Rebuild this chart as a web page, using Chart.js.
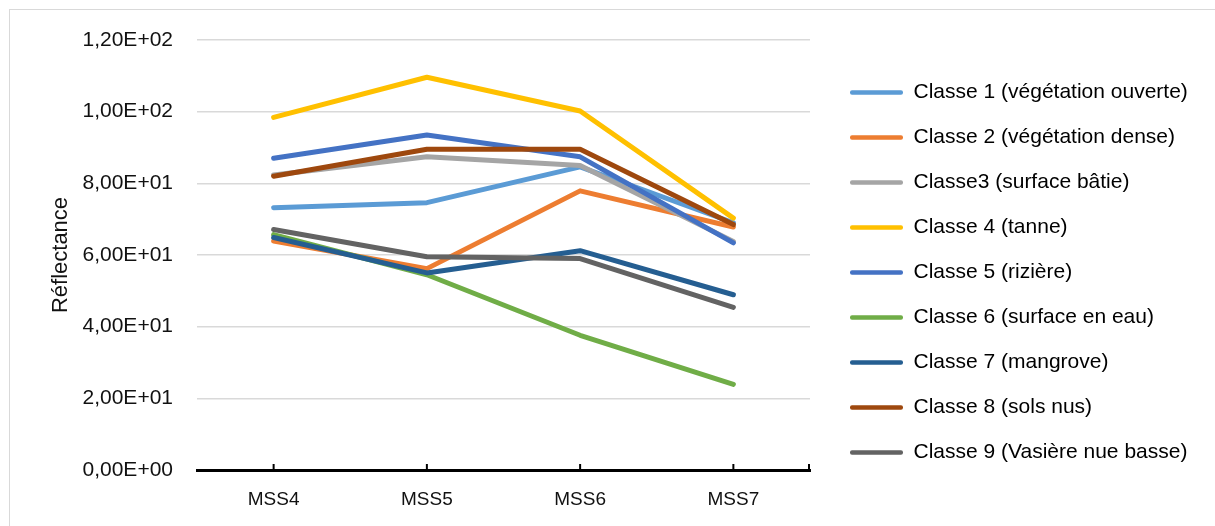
<!DOCTYPE html>
<html>
<head>
<meta charset="utf-8">
<script src="https://cdn.jsdelivr.net/npm/chart.js@4"></script>
<style>
  html, body { margin: 0; padding: 0; background: #fff; }
  #wrap { width: 1215px; height: 526px; position: relative; }
</style>
</head>
<body>
<div id="wrap"><canvas id="reflChart" width="1215" height="526"></canvas></div>
<script>
const bands = ["MSS4", "MSS5", "MSS6", "MSS7"];

const classNames = [
  "Classe 1 (végétation ouverte)",
  "Classe 2 (végétation dense)",
  "Classe3 (surface bâtie)",
  "Classe 4 (tanne)",
  "Classe 5 (rizière)",
  "Classe 6 (surface en eau)",
  "Classe 7 (mangrove)",
  "Classe 8 (sols nus)",
  "Classe 9 (Vasière nue basse)"
];

const classe1 = [73.2, 74.6, 84.6, 69.0];
const classe2 = [63.9, 56.2, 77.9, 67.8];
const classe3 = [82.3, 87.4, 85.0, 63.8];
const classe4 = [98.4, 109.6, 100.2, 70.3];
const classe5 = [87.0, 93.5, 87.4, 63.4];
const classe6 = [65.7, 54.5, 37.6, 23.9];
const classe7 = [64.9, 55.0, 61.2, 48.9];
const classe8 = [82.0, 89.5, 89.5, 68.5];
const classe9 = [67.1, 59.5, 59.0, 45.4];

const yTicks = [0, 20, 40, 60, 80, 100, 120];

const colors = ["#5B9BD5", "#ED7D31", "#A5A5A5", "#FFC000", "#4472C4",
                "#70AD47", "#255E91", "#9E480E", "#636363"];

const allSeries = [classe1, classe2, classe3, classe4, classe5,
                   classe6, classe7, classe8, classe9];

// excel style "1,20E+02"
function sci(v) {
  if (v === 0) return "0,00E+00";
  const e = Math.floor(Math.log10(Math.abs(v)));
  const m = v / Math.pow(10, e);
  return m.toFixed(2).replace(".", ",") + "E" + (e < 0 ? "-" : "+") + String(Math.abs(e)).padStart(2, "0");
}

const FONT = "'Liberation Sans', Arial, sans-serif";
const LEGEND_PAD = 24;

const frame = {
  id: "frame",
  beforeDraw(chart) {
    const ctx = chart.ctx;
    ctx.save();
    ctx.strokeStyle = "#d9d9d9";
    ctx.lineWidth = 1;
    ctx.strokeRect(9.5, 9.5, chart.width, chart.height);
    ctx.restore();
  },
  afterDraw(chart) {
    // small tick marks pointing up from the category axis
    const x = chart.scales.x;
    const ctx = chart.ctx;
    ctx.save();
    ctx.strokeStyle = "#000";
    ctx.lineWidth = 2;
    const ys = x.top;
    const pts = bands.map((_, i) => x.getPixelForTick(i));
    pts.push(x.right - 1);
    pts.forEach(px => {
      ctx.beginPath();
      ctx.moveTo(px, ys);
      ctx.lineTo(px, ys - 6);
      ctx.stroke();
    });
    ctx.restore();
  }
};

// legend sits a bit away from the plot, like the excel original
const legendPlace = {
  id: "legendPlace",
  afterUpdate(chart) {
    const lg = chart.legend;
    const h = lg.height;
    lg.left = 850 - LEGEND_PAD;
    lg.right = chart.width;
    lg.width = lg.right - lg.left;
    lg.top = 58;
    lg.bottom = lg.top + h;
  }
};

new Chart(document.getElementById("reflChart"), {
  type: "line",
  data: {
    labels: bands,
    datasets: allSeries.map((vals, i) => ({
      label: classNames[i],
      data: vals,
      borderColor: colors[i],
      backgroundColor: colors[i],
      borderWidth: 5,
      borderCapStyle: "round",
      borderJoinStyle: "round",
      tension: 0,
      pointRadius: 0,
      fill: false,
      order: allSeries.length - 1 - i
    }))
  },
  options: {
    responsive: false,
    animation: false,
    devicePixelRatio: 1,
    layout: {
      padding: { top: 40, bottom: 0, left: 10, right: 105 }
    },
    plugins: {
      tooltip: { enabled: false },
      legend: {
        display: true,
        position: "right",
        align: "start",
        maxWidth: 300,
        labels: {
          boxWidth: 53,
          boxHeight: 4.5,
          padding: LEGEND_PAD,
          color: "#111",
          font: { family: FONT, size: 21 },
          useBorderRadius: true,
          borderRadius: 2,
          generateLabels(chart) {
            return chart.data.datasets.map((ds, i) => ({
              text: ds.label,
              fillStyle: ds.borderColor,
              strokeStyle: ds.borderColor,
              lineWidth: 0,
              hidden: false,
              datasetIndex: i,
              borderRadius: 2
            }));
          }
        }
      }
    },
    scales: {
      x: {
        type: "category",
        offset: true,
        grid: { display: false, drawTicks: false },
        border: { display: true, color: "#000", width: 3 },
        ticks: {
          color: "#111",
          font: { family: FONT, size: 19 },
          padding: 18,
          maxRotation: 0
        },
        afterFit(scale) { scale.height = 56; }
      },
      y: {
        min: 0,
        max: 120,
        afterBuildTicks(scale) {
          scale.ticks = yTicks.map(v => ({ value: v }));
        },
        grid: { color: "#d9d9d9", lineWidth: 1.5, drawTicks: false },
        border: { display: false },
        ticks: {
          color: "#111",
          font: { family: FONT, size: 21 },
          padding: 24,
          callback: (v) => sci(v)
        },
        title: {
          display: true,
          text: "Réflectance",
          color: "#111",
          font: { family: FONT, size: 22 },
          padding: { top: 38, bottom: 0 }
        },
        afterFit(scale) { scale.width = 187; }
      }
    }
  },
  plugins: [frame, legendPlace]
});
</script>
</body>
</html>
